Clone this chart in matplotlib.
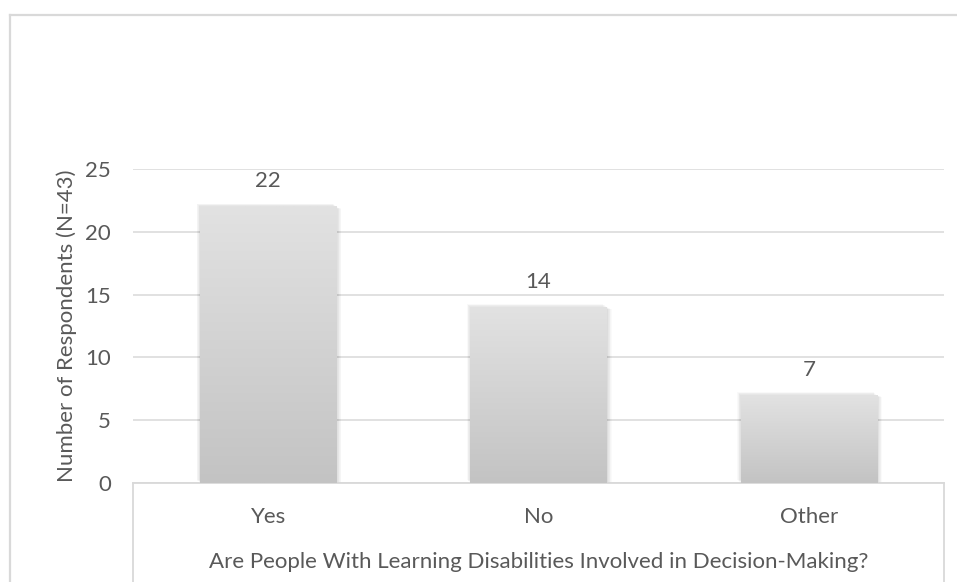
import numpy as np
import matplotlib.pyplot as plt
from matplotlib.lines import Line2D
from matplotlib.patches import Rectangle
from matplotlib.colors import LinearSegmentedColormap
from matplotlib.transforms import ScaledTranslation

categories = ['Yes', 'No', 'Other']
respondents = [22, 14, 7]
y_ticks = [0, 5, 10, 15, 20, 25]

plt.rcParams['font.family'] = ['Lato', 'DejaVu Sans']
text_color = '#595959'
grid_color = '#d9d9d9'
font_size = 16

fig = plt.figure(figsize=(9.57, 5.82), dpi=100)
ax = fig.add_axes([133 / 957, 99 / 582, (944 - 133) / 957, 314 / 582])

x = np.arange(len(categories))
bars = ax.bar(x, respondents, width=0.505, color='none', zorder=3)

# gradient fill + soft shadow for every bar
gradient = np.linspace(0, 1, 256).reshape(-1, 1)
cmap = LinearSegmentedColormap.from_list('bar', ['#c3c3c3', '#e2e2e2'])
for rect in bars:
    x0, y0 = rect.get_x(), rect.get_y()
    w, h = rect.get_width(), rect.get_height()
    for i in range(8):
        off = ScaledTranslation((0.3 + i * 0.45) / 72, -(i * 0.2) / 72,
                                fig.dpi_scale_trans)
        shadow = Rectangle((x0, y0), w, h, facecolor='black', edgecolor='none',
                           alpha=0.018, transform=ax.transData + off, zorder=2)
        ax.add_patch(shadow)
    for i in range(5):
        off = ScaledTranslation(-(0.4 + i * 0.5) / 72, (0.4 + i * 0.45) / 72,
                                fig.dpi_scale_trans)
        shadow = Rectangle((x0, y0), w, h, facecolor='black', edgecolor='none',
                           alpha=0.025, transform=ax.transData + off, zorder=2)
        ax.add_patch(shadow)
    ax.imshow(gradient, extent=[x0, x0 + w, y0, y0 + h], origin='lower',
              cmap=cmap, aspect='auto', zorder=3, interpolation='bilinear')
    ax.annotate(str(int(h)), (x0 + w / 2, y0 + h), xytext=(0, 11),
                textcoords='offset points', ha='center', va='bottom',
                fontsize=font_size, color=text_color)

ax.set_xlim(-0.5, len(categories) - 0.5)
ax.set_ylim(0, 25)
ax.set_xticks(x)
ax.set_xticklabels(categories)
ax.set_yticks(y_ticks)
ax.tick_params(axis='both', length=0, labelsize=font_size, labelcolor=text_color)
ax.tick_params(axis='x', pad=17)
ax.tick_params(axis='y', pad=16)

ax.yaxis.grid(True, color=grid_color, linewidth=1.1, zorder=0)
ax.set_axisbelow(True)
for side in ['top', 'left', 'right']:
    ax.spines[side].set_visible(False)
ax.spines['bottom'].set_color(grid_color)
ax.spines['bottom'].set_linewidth(1.3)

ax.set_xlabel('Are People With Learning Disabilities Involved in Decision-Making?',
              fontsize=font_size, color=text_color, labelpad=18)
ax.set_ylabel('Number of Respondents (N=43)', fontsize=font_size,
              color=text_color, labelpad=6)

# box under the plot area holding the category axis
for xa in (0, 1):
    ax.add_line(Line2D([xa, xa], [0, -0.35], transform=ax.transAxes,
                       color=grid_color, linewidth=1.3, clip_on=False))

# outer chart border (left and top visible)
fig.add_artist(Line2D([10 / 957, 10 / 957], [0, 1 - 15 / 582], color=grid_color,
                      linewidth=1.6))
fig.add_artist(Line2D([10 / 957, 1], [1 - 15 / 582, 1 - 15 / 582],
                      color=grid_color, linewidth=1.6))

fig.savefig('out.png', dpi=100)
